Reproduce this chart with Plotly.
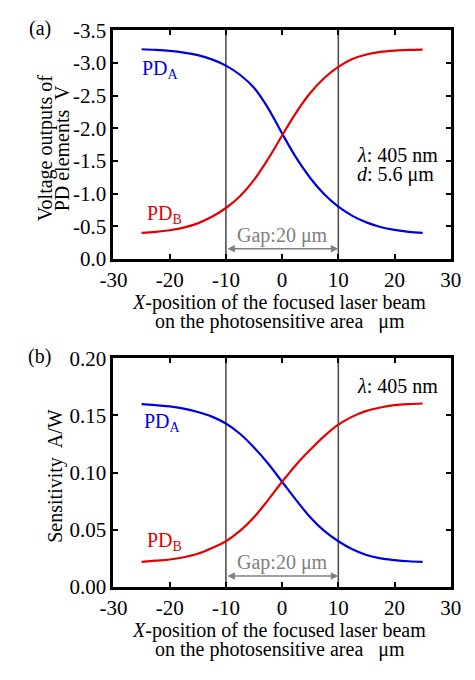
import plotly.graph_objects as go

# ---------------- data ----------------
x_pos = [-25, -22.5, -20, -17.5, -15, -12.5, -10, -7.5, -5, -2.5, 0,
         2.5, 5, 7.5, 10, 12.5, 15, 17.5, 20, 22.5, 25]

volt_pda = [-3.21, -3.20, -3.185, -3.16, -3.12, -3.055, -2.96, -2.82, -2.62, -2.31, -1.92,
            -1.55, -1.24, -0.99, -0.80, -0.66, -0.56, -0.49, -0.445, -0.415, -0.40]
volt_pdb = [-0.40, -0.415, -0.44, -0.48, -0.545, -0.645, -0.78, -0.96, -1.21, -1.53, -1.89,
            -2.24, -2.54, -2.77, -2.94, -3.06, -3.13, -3.17, -3.19, -3.20, -3.205]

sens_pda = [0.160, 0.159, 0.158, 0.156, 0.153, 0.149, 0.143, 0.134, 0.122, 0.108, 0.092,
            0.076, 0.061, 0.049, 0.040, 0.033, 0.028, 0.025, 0.0235, 0.0225, 0.022]
sens_pdb = [0.022, 0.023, 0.024, 0.026, 0.029, 0.034, 0.040, 0.049, 0.061, 0.076, 0.092,
            0.107, 0.120, 0.132, 0.142, 0.149, 0.154, 0.157, 0.159, 0.160, 0.1605]

gap_edges = [-10, 10]

x_tickvals = [-30, -20, -10, 0, 10, 20, 30]
x_ticktext = ["-30", "-20", "-10", "0", "10", "20", "30"]
v_tickvals = [0, -0.5, -1.0, -1.5, -2.0, -2.5, -3.0, -3.5]
v_ticktext = ["0.0", "-0.5", "-1.0", "-1.5", "-2.0", "-2.5", "-3.0", "-3.5"]
s_tickvals = [0, 0.05, 0.10, 0.15, 0.20]
s_ticktext = ["0.00", "0.05", "0.10", "0.15", "0.20"]

# ---------------- layout helpers ----------------
W, H = 475, 680
FONT = "Liberation Serif"
BLUE = "#0000e6"
RED = "#e60000"
GRAY = "#808080"
VLINE = "#505050"


def px(xp):
    return xp / W


def py(yp):
    return 1 - yp / H


fig = go.Figure()

for xs, ys, col, xa, ya in [(x_pos, volt_pda, BLUE, "x", "y"), (x_pos, volt_pdb, RED, "x", "y"),
                            (x_pos, sens_pda, BLUE, "x2", "y2"), (x_pos, sens_pdb, RED, "x2", "y2")]:
    fig.add_trace(go.Scatter(x=xs, y=ys, mode="lines",
                             line=dict(color=col, width=2.2, shape="spline", smoothing=1.0),
                             xaxis=xa, yaxis=ya, showlegend=False, hoverinfo="skip"))

axis_common = dict(showline=True, linewidth=3, linecolor="black", mirror="allticks",
                   ticks="inside", ticklen=5, tickwidth=2, tickcolor="black",
                   showgrid=False, zeroline=False,
                   tickfont=dict(family=FONT, size=21, color="black"))

x_dom = [px(105), px(461)]

fig.update_layout(
    width=W, height=H,
    margin=dict(l=0, r=0, t=0, b=0),
    paper_bgcolor="white", plot_bgcolor="white",
    font=dict(family=FONT, size=20, color="black"),
    xaxis=dict(domain=x_dom, range=[-30, 30], tickvals=x_tickvals, ticktext=x_ticktext,
               anchor="y", **axis_common),
    yaxis=dict(domain=[py(256), py(19)], range=[0, -3.5], tickvals=v_tickvals, ticktext=v_ticktext,
               anchor="x", **axis_common),
    xaxis2=dict(domain=x_dom, range=[-30, 30], tickvals=x_tickvals, ticktext=x_ticktext,
                anchor="y2", **axis_common),
    yaxis2=dict(domain=[py(596), py(359)], range=[0, 0.20], tickvals=s_tickvals, ticktext=s_ticktext,
                anchor="x2", **axis_common),
)

shapes = []
for xr, yr in [("x", "y"), ("x2", "y2")]:
    for g in gap_edges:
        shapes.append(dict(type="line", xref=xr, yref=yr + " domain", x0=g, x1=g, y0=0, y1=1,
                           line=dict(color=VLINE, width=1.6), layer="below"))
fig.update_layout(shapes=shapes)

ann = []


def text(xp, yp, s, size=20, color="black", xanchor="center", yanchor="middle", angle=0):
    ann.append(dict(x=px(xp), y=py(yp), xref="paper", yref="paper", text=s, showarrow=False,
                    font=dict(family=FONT, size=size, color=color), xanchor=xanchor, yanchor=yanchor,
                    textangle=angle))


# panel labels
text(27, 17, "(a)")
text(27, 357, "(b)")

# y titles
text(33, 141, "Voltage outputs of", angle=-90)
text(51, 141, "PD elements  V", angle=-90)
text(43, 481, "Sensitivity  A/W", angle=-90)

# x titles
for off in [0, 340]:
    text(280, 301 + off, "<i>X</i>-position of the focused laser beam")
    text(281, 321 + off, "on the photosensitive area   μm")

# curve labels
text(133, 60, "PD<sub>A</sub>", color=BLUE, xanchor="left")
text(138, 210, "PD<sub>B</sub>", color=RED, xanchor="left")
text(135, 426, "PD<sub>A</sub>", color=BLUE, xanchor="left")
text(138, 549, "PD<sub>B</sub>", color=RED, xanchor="left")

# conditions
text(360, 148, "<i>λ</i>: 405 nm", xanchor="left")
text(360, 168, "<i>d</i>: 5.6 μm", xanchor="left")
text(360, 388, "<i>λ</i>: 405 nm", xanchor="left")

# gap arrows and labels
for xr, yr, ya, yt in [("x", "y", -0.155, -0.36), ("x2", "y2", 0.0095, 0.021)]:
    ann.append(dict(x=gap_edges[1], y=ya, ax=gap_edges[0], ay=ya, xref=xr, yref=yr, axref=xr, ayref=yr,
                    text="", showarrow=True, arrowhead=2, arrowside="end+start", arrowsize=1,
                    arrowwidth=1.5, arrowcolor=GRAY))
    ann.append(dict(x=0, y=yt, xref=xr, yref=yr, text="Gap:20 μm", showarrow=False,
                    font=dict(family=FONT, size=20, color=GRAY), xanchor="center", yanchor="middle"))

fig.update_layout(annotations=ann)

fig.write_html("out.html", post_script="document.body.style.margin='0';")
